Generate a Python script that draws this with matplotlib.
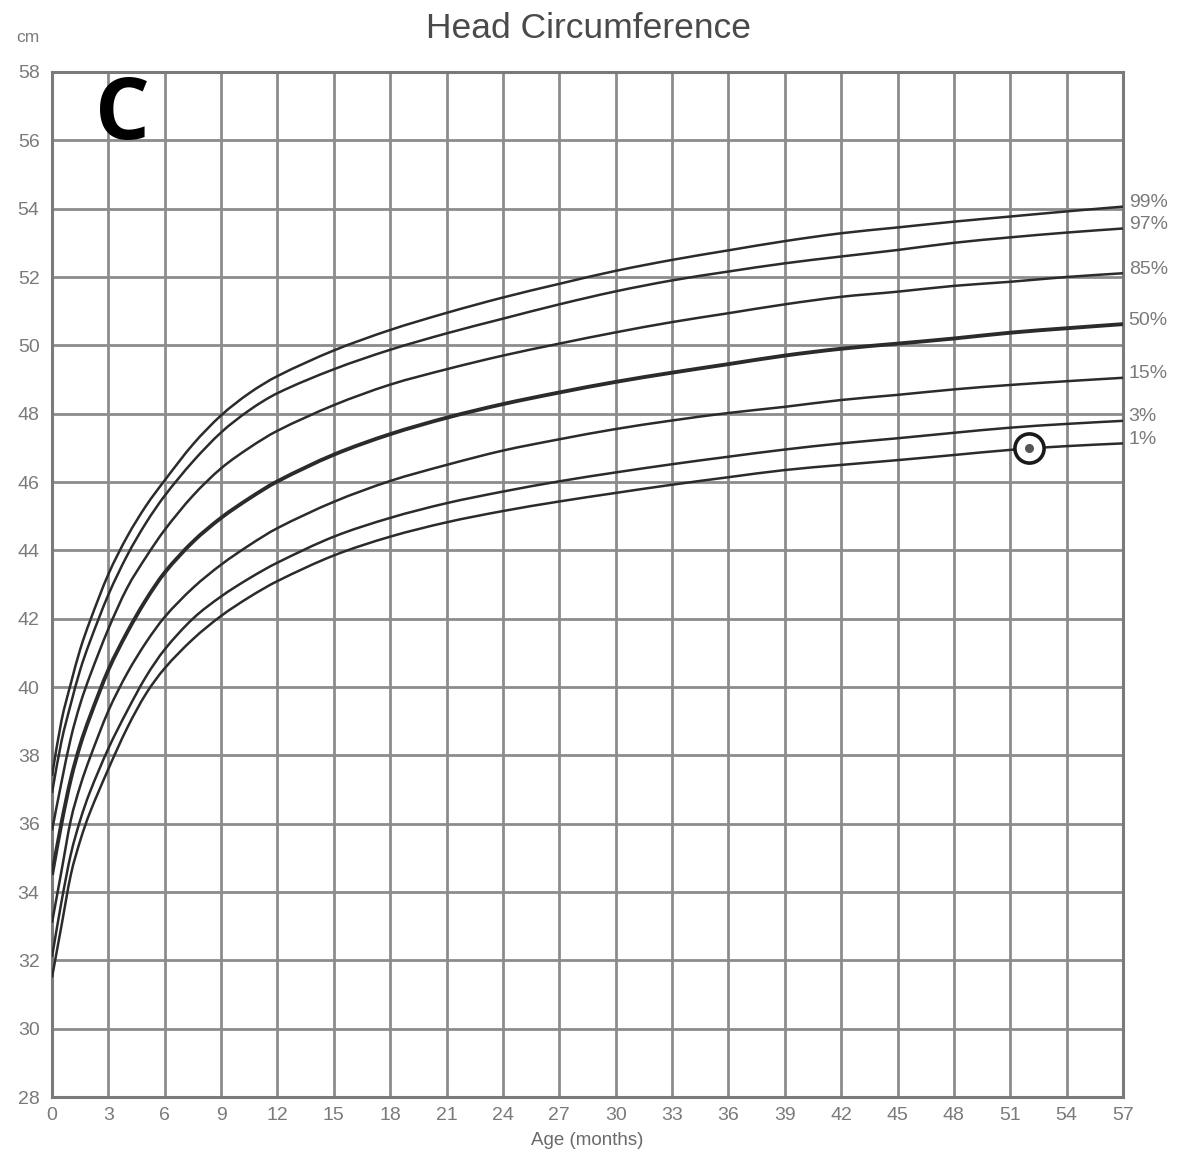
import matplotlib
matplotlib.use("Agg")
import matplotlib.pyplot as plt
from matplotlib.path import Path
from matplotlib.patches import PathPatch
import numpy as np

# ---- data ----
months = [0, 0.5, 1, 1.5, 2, 3, 4, 5, 6, 7.5, 9, 10.5, 12, 15, 18, 21, 24, 27, 30, 33, 36, 39, 42, 45, 48, 51, 54, 57]

p99 = [37.4, 39.0, 40.1, 41.1, 41.9, 43.3, 44.4, 45.3, 46.05, 47.1, 47.95, 48.6, 49.1, 49.85, 50.45, 50.95, 51.4, 51.8, 52.18, 52.5, 52.78, 53.05, 53.28, 53.45, 53.62, 53.77, 53.92, 54.06]
p97 = [36.9, 38.4, 39.5, 40.5, 41.3, 42.7, 43.85, 44.8, 45.6, 46.6, 47.45, 48.1, 48.6, 49.3, 49.87, 50.35, 50.78, 51.2, 51.58, 51.9, 52.16, 52.4, 52.6, 52.79, 53.0, 53.16, 53.3, 53.42]
p85 = [35.8, 37.2, 38.5, 39.5, 40.3, 41.7, 42.9, 43.8, 44.6, 45.6, 46.4, 47.0, 47.5, 48.25, 48.85, 49.3, 49.7, 50.05, 50.38, 50.68, 50.94, 51.2, 51.42, 51.57, 51.74, 51.86, 52.0, 52.11]
p50 = [34.5, 36.0, 37.3, 38.3, 39.1, 40.5, 41.6, 42.55, 43.35, 44.25, 44.95, 45.52, 46.02, 46.8, 47.4, 47.88, 48.28, 48.62, 48.93, 49.2, 49.45, 49.7, 49.9, 50.05, 50.2, 50.37, 50.5, 50.62]
p15 = [33.1, 34.6, 36.1, 37.1, 37.9, 39.3, 40.4, 41.3, 42.05, 42.9, 43.58, 44.15, 44.65, 45.42, 46.03, 46.5, 46.92, 47.25, 47.55, 47.8, 48.02, 48.2, 48.4, 48.55, 48.71, 48.84, 48.95, 49.05]
p3 = [32.1, 33.7, 35.1, 36.1, 36.9, 38.2, 39.3, 40.3, 41.1, 42.0, 42.65, 43.18, 43.64, 44.4, 44.95, 45.38, 45.72, 46.02, 46.28, 46.52, 46.74, 46.95, 47.13, 47.28, 47.44, 47.59, 47.7, 47.79]
p1 = [31.5, 33.0, 34.5, 35.5, 36.3, 37.6, 38.8, 39.8, 40.55, 41.4, 42.08, 42.63, 43.1, 43.85, 44.4, 44.82, 45.15, 45.43, 45.68, 45.92, 46.14, 46.35, 46.5, 46.64, 46.79, 46.94, 47.05, 47.13]

curve_labels = ["99%", "97%", "85%", "50%", "15%", "3%", "1%"]
curves = [p99, p97, p85, p50, p15, p3, p1]

patient_age = [52]
patient_hc = [47.0]

x_ticks = list(range(0, 58, 3))
y_ticks = list(range(28, 59, 2))


def smooth_path(xs, ys):
    """Catmull-Rom style curve through the given points, as cubic Bezier segments."""
    p = np.column_stack([xs, ys]).astype(float)
    n = len(p)
    verts = [p[0]]
    codes = [Path.MOVETO]
    for i in range(n - 1):
        p0 = p[i - 1] if i > 0 else p[i]
        p1, p2 = p[i], p[i + 1]
        p3 = p[i + 2] if i + 2 < n else p[i + 1]
        h = p2[0] - p1[0]
        t1 = (p2 - p0) / (p2[0] - p0[0]) * h
        t2 = (p3 - p1) / (p3[0] - p1[0]) * h
        verts += [p1 + t1 / 3.0, p2 - t2 / 3.0, p2]
        codes += [Path.CURVE4, Path.CURVE4, Path.CURVE4]
    return Path(verts, codes)


# ---- figure ----
plt.rcParams['font.family'] = ['Liberation Sans', 'DejaVu Sans']
W, H = 1183, 1159
fig = plt.figure(figsize=(W / 100, H / 100), dpi=100)
ax = fig.add_axes([52 / W, 1 - 1097 / H, (1123 - 52) / W, (1097 - 72) / H])

ax.set_xlim(0, 57)
ax.set_ylim(28, 58)
ax.set_xticks(x_ticks)
ax.set_yticks(y_ticks)
ax.tick_params(length=0, labelsize=14, labelcolor='#7a7a7a', pad=7)
ax.tick_params(axis='y', pad=9)
ax.grid(True, color='#8c8c8c', linewidth=2.0)
ax.set_axisbelow(True)
for s in ax.spines.values():
    s.set_color('#7a7a7a')
    s.set_linewidth(2.2)

for lab, vals in zip(curve_labels, curves):
    lw = 2.8 if lab == "50%" else 1.8
    patch = PathPatch(smooth_path(months, vals), facecolor='none', edgecolor='#2b2b2b',
                      linewidth=lw, capstyle='butt', zorder=3)
    ax.add_patch(patch)
    ax.text(57.3, vals[-1] + 0.12, lab, fontsize=14, color='#7a7a7a',
            va='center', ha='left', clip_on=False)

# patient point
ax.plot(patient_age, patient_hc, marker='o', markersize=21, markerfacecolor='white',
        markeredgecolor='#1a1a1a', markeredgewidth=2.6, linestyle='none', zorder=5)
ax.plot(patient_age, patient_hc, marker='o', markersize=5.5, color='#555555',
        linestyle='none', zorder=6)

ax.set_xlabel("Age (months)", fontsize=13.5, color='#6a6a6a', labelpad=6)

fig.text(588 / W, 1 - 28 / H, "Head Circumference", fontsize=25.5, color='#4a4a4a',
         ha='center', va='center')
fig.text(28 / W, 1 - 38 / H, "cm", fontsize=12.5, color='#7a7a7a', ha='center', va='center')
ax.text(0.066, 0.957, "C", transform=ax.transAxes, fontsize=62, fontweight='bold',
        family=['Open Sans', 'DejaVu Sans'], color='black', ha='center', va='center')

fig.savefig("out.png", dpi=100, facecolor='white')
